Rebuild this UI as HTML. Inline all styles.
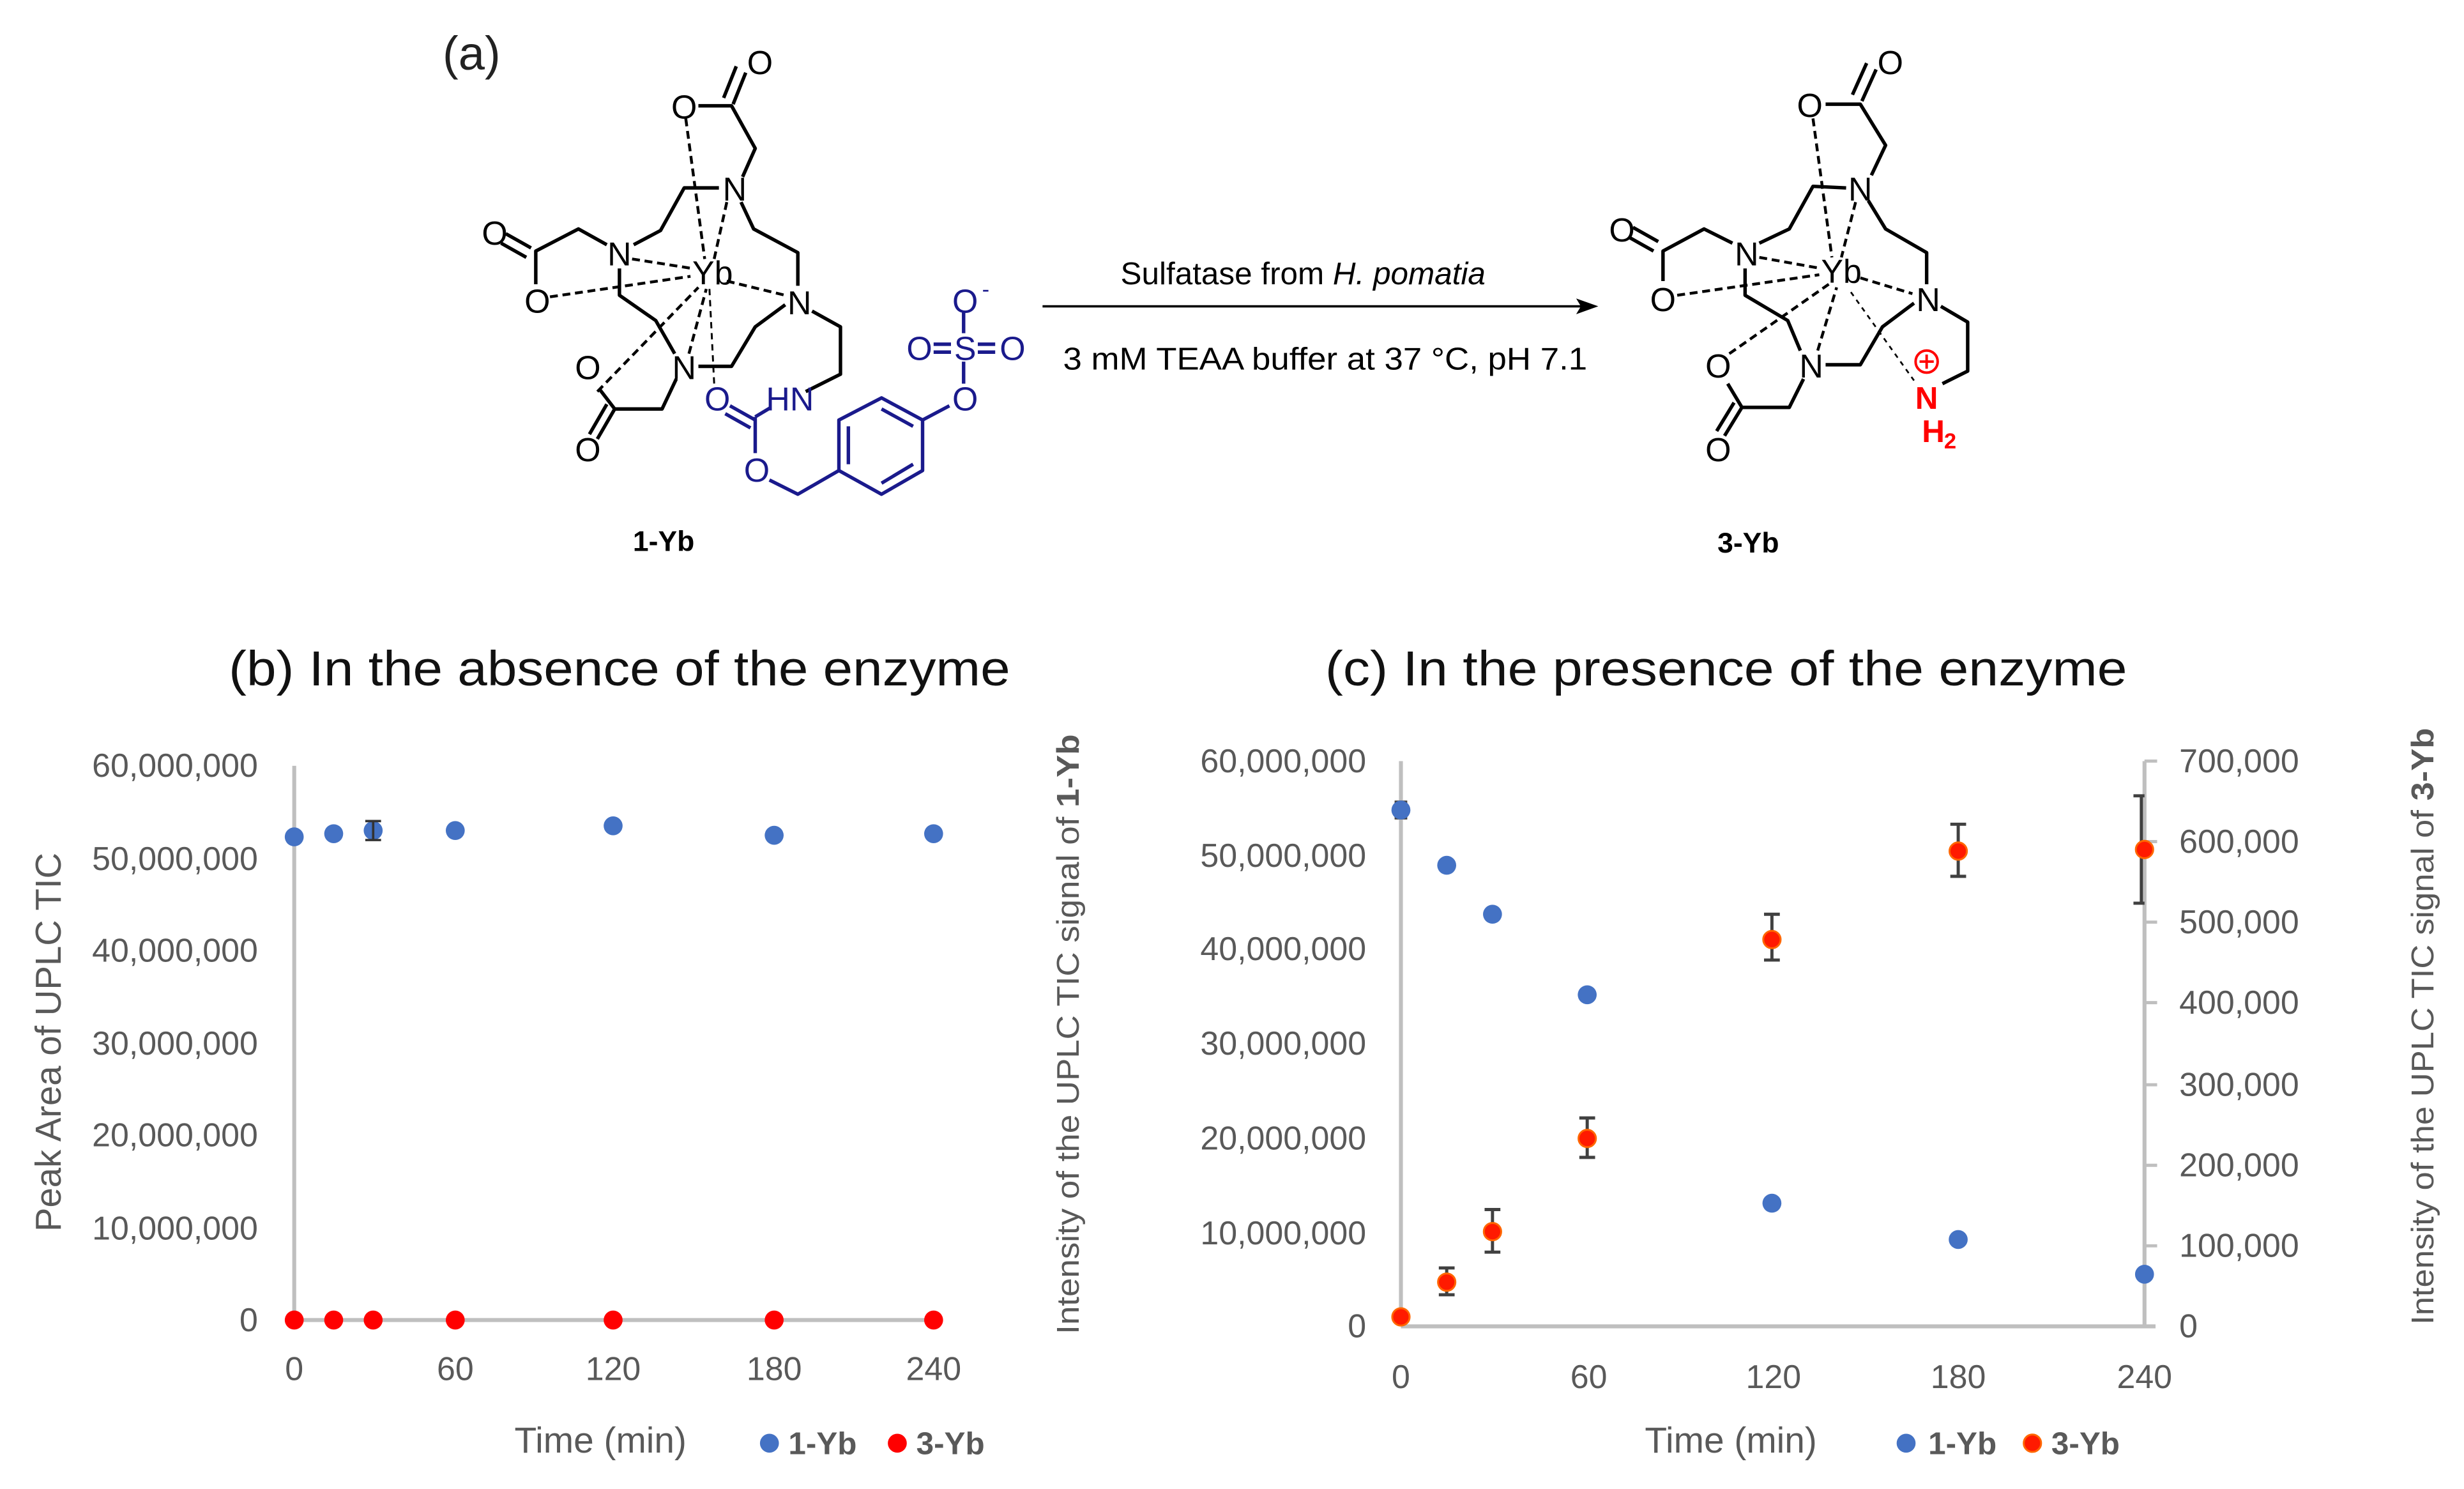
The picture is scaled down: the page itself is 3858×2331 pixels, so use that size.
<!DOCTYPE html>
<html><head><meta charset="utf-8"><style>
html,body{margin:0;padding:0;background:#fff;}
svg{display:block;}
text{font-family:"Liberation Sans",sans-serif;}
</style></head><body>
<svg width="3858" height="2331" viewBox="0 0 1560 943" xmlns="http://www.w3.org/2000/svg">
<rect width="1560" height="943" fill="#fff"/>
<!-- (a) -->
<text x="280" y="44" font-size="30" fill="#222">(a)</text>

<!-- 1-Yb molecule -->
<g stroke="#000" stroke-width="2.2" fill="none" stroke-linejoin="round">
 <path d="M442,67 L463,67 L478,94 L470,112"/>
 <path d="M466,42 L458,62 M472,46 L464,66"/>
 <path d="M455,119 L433,119 L418,146 L401,155"/>
 <path d="M384,155 L366,145 L339,159 L339,180"/>
 <path d="M320,148 L336,157 M317,154 L333,163"/>
 <path d="M392,170 L392,187 L415,203 L427,224"/>
 <path d="M442,232 L463,232 L478,207 L497,193"/>
 <path d="M505,181 L505,160 L477,145 L469,128"/>
 <path d="M514,197 L532,207 L532,237 L510,248"/>
 <path d="M428,240 L419,259 L389,259 L379,246"/>
 <path d="M389,259 L378,278 M384,256 L373,275"/>
</g>
<g stroke="#000" stroke-width="1.8" fill="none" stroke-dasharray="5,3">
 <path d="M434,75 L446,164"/>
 <path d="M460,128 L452,164"/>
 <path d="M400,164 L438,170"/>
 <path d="M348,188 L437,175"/>
 <path d="M378,248 L442,182"/>
 <path d="M436,224 L447,183"/>
 <path d="M460,178 L497,187"/>
</g>
<path d="M449,183 L452,243" stroke="#000" stroke-width="1.2" stroke-dasharray="4,3"/>
<g font-size="21" fill="#000" text-anchor="middle">
 <text x="481" y="47">O</text>
 <text x="433" y="75">O</text>
 <text x="465" y="127">N</text>
 <text x="392" y="168">N</text>
 <text x="313" y="155">O</text>
 <text x="340" y="198">O</text>
 <text x="451" y="180">Yb</text>
 <text x="506" y="199">N</text>
 <text x="433" y="240">N</text>
 <text x="372" y="240">O</text>
 <text x="372" y="292">O</text>
</g>
<!-- blue part -->
<g stroke="#1a1a8c" stroke-width="2.2" fill="none" stroke-linejoin="round">
 <path d="M462,257 L478,266 M459,262 L475,271"/>
 <path d="M478,264 L488,258"/>
 <path d="M478,264 L478,287"/>
 <path d="M487,304 L505,313 L531,298"/>
 <path d="M531,298 L531,266 L558,252 L584,266 L584,298 L558,313 Z"/>
 <path d="M537,294 L537,270 M558,259 L578,270 M578,294 L558,306"/>
 <path d="M584,266 L601,257"/>
 <path d="M610,229 L610,243 M610,197 L610,211"/>
 <path d="M591,218 L602,218 M591,223 L602,223 M619,218 L630,218 M619,223 L630,223"/>
</g>
<g font-size="21" fill="#1a1a8c" text-anchor="middle">
 <text x="454" y="260">O</text>
 <text x="500" y="260">HN</text>
 <text x="479" y="305">O</text>
 <text x="611" y="260">O</text>
 <text x="611" y="228">S</text>
 <text x="582" y="228">O</text>
 <text x="641" y="228">O</text>
 <text x="611" y="198">O</text>
 <text x="624" y="188" font-size="14">-</text>
</g>
<text x="420" y="349" font-size="18" font-weight="bold" text-anchor="middle">1-Yb</text>

<!-- arrow -->
<line x1="660" y1="194" x2="1002" y2="194" stroke="#000" stroke-width="1.5"/>
<path d="M1012,194 L998,189 L1001,194 L998,199 Z" fill="#000"/>
<text x="825" y="180" font-size="20" text-anchor="middle">Sulfatase from <tspan font-style="italic">H. pomatia</tspan></text>
<text x="839" y="234" font-size="20" text-anchor="middle" textLength="332" lengthAdjust="spacingAndGlyphs">3 mM TEAA buffer at 37 °C, pH 7.1</text>

<!-- 3-Yb molecule -->
<g stroke="#000" stroke-width="2.2" fill="none" stroke-linejoin="round">
 <path d="M1156,66 L1178,66 L1194,92 L1185,111"/>
 <path d="M1182,40 L1173,60 M1188,44 L1179,64"/>
 <path d="M1169,119 L1148,118 L1133,145 L1114,154"/>
 <path d="M1097,154 L1079,145 L1053,159 L1053,178"/>
 <path d="M1034,144 L1050,153 M1031,150 L1047,159"/>
 <path d="M1105,170 L1105,187 L1132,203 L1140,222"/>
 <path d="M1156,231 L1178,231 L1192,207 L1212,192"/>
 <path d="M1220,180 L1220,160 L1194,145 L1183,127"/>
 <path d="M1229,194 L1246,204 L1246,235 L1230,243"/>
 <path d="M1142,240 L1133,258 L1103,258 L1094,243"/>
 <path d="M1103,258 L1092,276 M1098,255 L1087,273"/>
</g>
<g stroke="#000" stroke-width="1.8" fill="none" stroke-dasharray="5,3">
 <path d="M1148,75 L1160,163"/>
 <path d="M1175,128 L1166,163"/>
 <path d="M1114,163 L1153,170"/>
 <path d="M1062,187 L1152,174"/>
 <path d="M1095,224 L1158,180"/>
 <path d="M1151,222 L1163,182"/>
 <path d="M1178,176 L1211,186"/>
</g>
<path d="M1172,185 L1212,241" stroke="#000" stroke-width="1.1" stroke-dasharray="3,3"/>
<g font-size="21" fill="#000" text-anchor="middle">
 <text x="1197" y="47">O</text>
 <text x="1146" y="74">O</text>
 <text x="1178" y="127">N</text>
 <text x="1106" y="168">N</text>
 <text x="1027" y="153">O</text>
 <text x="1053" y="197">O</text>
 <text x="1166" y="179">Yb</text>
 <text x="1221" y="197">N</text>
 <text x="1147" y="239">N</text>
 <text x="1088" y="239">O</text>
 <text x="1088" y="292">O</text>
</g>
<g fill="#ff0000">
 <circle cx="1220" cy="229" r="7" fill="none" stroke="#ff0000" stroke-width="1.6"/>
 <path d="M1215.5,229 H1224.5 M1220,224.5 V233.5" stroke="#ff0000" stroke-width="1.6"/>
 <text x="1220" y="259" font-size="20" font-weight="bold" text-anchor="middle">N</text>
 <text x="1217" y="280" font-size="20" font-weight="bold">H</text>
 <text x="1231" y="284" font-size="14" font-weight="bold">2</text>
</g>
<text x="1107" y="350" font-size="18" font-weight="bold" text-anchor="middle">3-Yb</text>

<!-- Chart (b) -->
<text x="392" y="434" font-size="31" text-anchor="middle" fill="#111" textLength="495" lengthAdjust="spacingAndGlyphs">(b) In the absence of the enzyme</text>
<g stroke="#bfbfbf" stroke-width="2.5">
 <line x1="186" y1="485" x2="186" y2="836"/>
 <line x1="186" y1="836" x2="592" y2="836"/>
</g>
<g font-size="21" fill="#595959" text-anchor="end">
 <text x="163" y="492">60,000,000</text>
 <text x="163" y="551">50,000,000</text>
 <text x="163" y="609">40,000,000</text>
 <text x="163" y="668">30,000,000</text>
 <text x="163" y="726">20,000,000</text>
 <text x="163" y="785">10,000,000</text>
 <text x="163" y="843">0</text>
</g>
<g font-size="21" fill="#595959" text-anchor="middle">
 <text x="186" y="874">0</text>
 <text x="288" y="874">60</text>
 <text x="388" y="874">120</text>
 <text x="490" y="874">180</text>
 <text x="591" y="874">240</text>
 <text x="380" y="920" font-size="23">Time (min)</text>
</g>
<text transform="translate(38,660) rotate(-90)" font-size="23" fill="#595959" text-anchor="middle" textLength="240" lengthAdjust="spacingAndGlyphs">Peak Area of UPLC TIC</text>
<text transform="translate(683,655) rotate(-90)" font-size="20" fill="#595959" text-anchor="middle" textLength="380" lengthAdjust="spacingAndGlyphs">Intensity of the UPLC TIC signal of <tspan font-weight="bold">1-Yb</tspan></text>
<g fill="#4472c4">
 <circle cx="186" cy="530" r="6"/><circle cx="211" cy="528" r="6"/><circle cx="236" cy="526" r="6"/>
 <circle cx="288" cy="526" r="6"/><circle cx="388" cy="523" r="6"/><circle cx="490" cy="529" r="6"/><circle cx="591" cy="528" r="6"/>
</g>
<path d="M236,520 V532 M231,520 H241 M231,532 H241" stroke="#333" stroke-width="1.5"/>
<g fill="#ff0000">
 <circle cx="186" cy="836" r="6"/><circle cx="211" cy="836" r="6"/><circle cx="236" cy="836" r="6"/>
 <circle cx="288" cy="836" r="6"/><circle cx="388" cy="836" r="6"/><circle cx="490" cy="836" r="6"/><circle cx="591" cy="836" r="6"/>
</g>
<circle cx="487" cy="914" r="6" fill="#4472c4"/>
<text x="499" y="921" font-size="20" font-weight="bold" fill="#595959">1-Yb</text>
<circle cx="568" cy="914" r="6" fill="#ff0000"/>
<text x="580" y="921" font-size="20" font-weight="bold" fill="#595959">3-Yb</text>

<!-- Chart (c) -->
<text x="1093" y="434" font-size="31" text-anchor="middle" fill="#111" textLength="508" lengthAdjust="spacingAndGlyphs">(c) In the presence of the enzyme</text>
<g stroke="#bfbfbf" stroke-width="2.5">
 <line x1="887" y1="482" x2="887" y2="840"/>
 <line x1="887" y1="840" x2="1365" y2="840"/>
 <line x1="1358" y1="482" x2="1358" y2="840"/>
</g>
<g stroke="#bfbfbf" stroke-width="2">
 <path d="M1358,482 H1366 M1358,533 H1366 M1358,584 H1366 M1358,635 H1366 M1358,687 H1366 M1358,738 H1366 M1358,789 H1366"/>
</g>
<g font-size="21" fill="#595959" text-anchor="end">
 <text x="865" y="489">60,000,000</text>
 <text x="865" y="549">50,000,000</text>
 <text x="865" y="608">40,000,000</text>
 <text x="865" y="668">30,000,000</text>
 <text x="865" y="728">20,000,000</text>
 <text x="865" y="788">10,000,000</text>
 <text x="865" y="847">0</text>
</g>
<g font-size="21" fill="#595959">
 <text x="1380" y="489">700,000</text>
 <text x="1380" y="540">600,000</text>
 <text x="1380" y="591">500,000</text>
 <text x="1380" y="642">400,000</text>
 <text x="1380" y="694">300,000</text>
 <text x="1380" y="745">200,000</text>
 <text x="1380" y="796">100,000</text>
 <text x="1380" y="847">0</text>
</g>
<g font-size="21" fill="#595959" text-anchor="middle">
 <text x="887" y="879">0</text>
 <text x="1006" y="879">60</text>
 <text x="1123" y="879">120</text>
 <text x="1240" y="879">180</text>
 <text x="1358" y="879">240</text>
 <text x="1096" y="920" font-size="23">Time (min)</text>
</g>
<text transform="translate(1541,650) rotate(-90)" font-size="20" fill="#595959" text-anchor="middle" textLength="378" lengthAdjust="spacingAndGlyphs">Intensity of the UPLC TIC signal of <tspan font-weight="bold">3-Yb</tspan></text>
<g stroke="#404040" stroke-width="2" fill="none">
 <path d="M916,803 V820 M911,803 H921 M911,820 H921"/>
 <path d="M945,766 V793 M940,766 H950 M940,793 H950"/>
 <path d="M1005,708 V733 M1000,708 H1010 M1000,733 H1010"/>
 <path d="M1122,579 V608 M1117,579 H1127 M1117,608 H1127"/>
 <path d="M1240,522 V555 M1235,522 H1245 M1235,555 H1245"/>
 <path d="M1356,504 V572 M1351,504 H1358 M1351,572 H1358"/>
 <path d="M887,508 V518 M883,508 H891 M883,518 H891"/>
</g>
<g fill="#4472c4">
 <circle cx="887" cy="513" r="6"/><circle cx="916" cy="548" r="6"/><circle cx="945" cy="579" r="6"/>
 <circle cx="1005" cy="630" r="6"/><circle cx="1122" cy="762" r="6"/><circle cx="1240" cy="785" r="6"/><circle cx="1358" cy="807" r="6"/>
</g>
<g fill="#ff1a00" stroke="#ff6600" stroke-width="1.2">
 <circle cx="887" cy="834" r="5.5"/><circle cx="916" cy="812" r="5.5"/><circle cx="945" cy="780" r="5.5"/>
 <circle cx="1005" cy="721" r="5.5"/><circle cx="1122" cy="595" r="5.5"/><circle cx="1240" cy="539" r="5.5"/><circle cx="1358" cy="538" r="5.5"/>
</g>
<circle cx="1207" cy="914" r="6" fill="#4472c4"/>
<text x="1221" y="921" font-size="20" font-weight="bold" fill="#595959">1-Yb</text>
<circle cx="1287" cy="914" r="5.5" fill="#ff1a00" stroke="#ff6600" stroke-width="1.2"/>
<text x="1299" y="921" font-size="20" font-weight="bold" fill="#595959">3-Yb</text>
</svg>
</body></html>
